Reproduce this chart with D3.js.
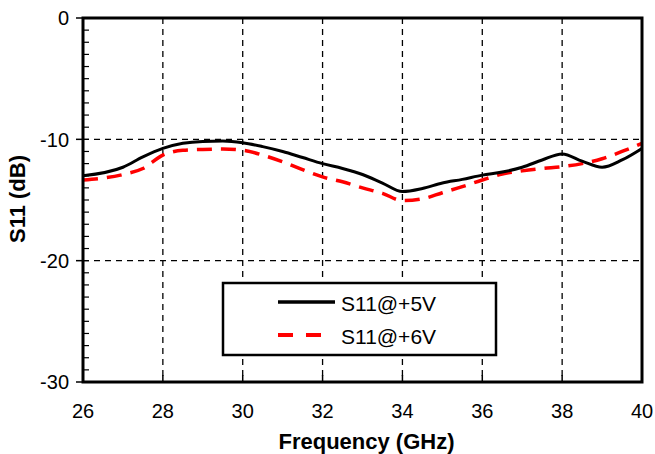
<!DOCTYPE html>
<html>
<head>
<meta charset="utf-8">
<script src="https://cdn.jsdelivr.net/npm/d3@7"></script>
<style>
  body { margin: 0; background: #fff; }
  text { font-family: "Liberation Sans", Arial, sans-serif; }
</style>
</head>
<body>
<div id="chart"></div>
<script>
var freq5 = [26, 27, 27.5, 28, 28.5, 29, 29.5, 30, 30.5, 31, 31.5, 32, 32.5, 33, 33.5, 34, 34.5, 35, 35.5, 36, 36.5, 37, 37.5, 38, 38.5, 39, 39.5, 40];
var s11_5v = [-13.0, -12.3, -11.45, -10.75, -10.33, -10.17, -10.14, -10.28, -10.6, -11.0, -11.5, -12.0, -12.4, -12.9, -13.6, -14.3, -14.05, -13.6, -13.3, -12.95, -12.7, -12.3, -11.7, -11.2, -11.8, -12.3, -11.7, -10.75];
var freq6 = [26, 27, 27.5, 28, 28.5, 29, 29.5, 30, 30.5, 31, 31.5, 32, 32.5, 33, 33.5, 34, 34.5, 35, 35.5, 36, 36.5, 37, 37.5, 38, 38.5, 39, 39.5, 40];
var s11_6v = [-13.35, -12.9, -12.4, -11.3, -10.9, -10.83, -10.8, -10.9, -11.3, -11.85, -12.5, -13.1, -13.5, -14.0, -14.45, -15.05, -14.9, -14.4, -13.9, -13.35, -12.86, -12.6, -12.4, -12.25, -12.0, -11.6, -11.0, -10.33];
var xTicks = [26, 28, 30, 32, 34, 36, 38, 40];
var yTicks = [0, -10, -20, -30];
var seriesNames = ["S11@+5V", "S11@+6V"];

var W = 655, H = 454;
var margin = {top: 18, right: 13, bottom: 72, left: 83};
var width = W - margin.left - margin.right,
    height = H - margin.top - margin.bottom;

var svg = d3.select("#chart").append("svg")
    .attr("width", W).attr("height", H)
    .append("g")
    .attr("transform", "translate(" + margin.left + "," + margin.top + ")");

var x = d3.scaleLinear().domain([26, 40]).range([0, width]);
var y = d3.scaleLinear().domain([-30, 0]).range([height, 0]);

// grid (dashed)
svg.selectAll(".vgrid").data(xTicks.slice(1, -1)).enter().append("line")
    .attr("x1", d => x(d)).attr("x2", d => x(d))
    .attr("y1", 0).attr("y2", height)
    .attr("stroke", "#000").attr("stroke-width", 1.3).attr("stroke-dasharray", "6,5");
svg.selectAll(".hgrid").data(yTicks.slice(1, -1)).enter().append("line")
    .attr("x1", 0).attr("x2", width)
    .attr("y1", d => y(d)).attr("y2", d => y(d))
    .attr("stroke", "#000").attr("stroke-width", 1.3).attr("stroke-dasharray", "6,5");

// minor ticks on the left axis, pointing in
svg.selectAll(".ytick-minor").data(d3.range(-29, 0)).enter().append("line")
    .attr("x1", 0).attr("x2", 6)
    .attr("y1", d => y(d)).attr("y2", d => y(d))
    .attr("stroke", "#000").attr("stroke-width", 1.2);
// major ticks on the left axis, pointing out
svg.selectAll(".ytick").data(yTicks).enter().append("line")
    .attr("x1", -7).attr("x2", 0)
    .attr("y1", d => y(d)).attr("y2", d => y(d))
    .attr("stroke", "#000").attr("stroke-width", 1.5);
// ticks on bottom axis, pointing in
svg.selectAll(".xtick").data(xTicks.slice(1, -1)).enter().append("line")
    .attr("x1", d => x(d)).attr("x2", d => x(d))
    .attr("y1", height).attr("y2", height - 7)
    .attr("stroke", "#000").attr("stroke-width", 1.5);

// tick labels
svg.selectAll(".ylab").data(yTicks).enter().append("text")
    .attr("x", -14).attr("y", d => y(d))
    .attr("dy", "0.36em").attr("text-anchor", "end")
    .attr("font-size", 20).text(d => d);
svg.selectAll(".xlab").data(xTicks).enter().append("text")
    .attr("x", d => x(d)).attr("y", height + 36)
    .attr("text-anchor", "middle")
    .attr("font-size", 20).text(d => d);

// axis titles
svg.append("text")
    .attr("x", width / 2 + 4).attr("y", height + 67)
    .attr("text-anchor", "middle")
    .attr("font-size", 22).attr("font-weight", "bold")
    .text("Frequency (GHz)");
svg.append("text")
    .attr("transform", "translate(" + (-66) + "," + (y(-15) - 1) + ") rotate(-90)")
    .attr("text-anchor", "middle").attr("dy", "0.36em")
    .attr("font-size", 22).attr("font-weight", "bold")
    .text("S11 (dB)");

// curves
var line = d3.line().curve(d3.curveMonotoneX)
    .x(d => x(d[0])).y(d => y(d[1]));

svg.append("path")
    .datum(d3.zip(freq6, s11_6v))
    .attr("d", line)
    .attr("fill", "none").attr("stroke", "#ff0000")
    .attr("stroke-width", 3.5).attr("stroke-dasharray", "15,9");
svg.append("path")
    .datum(d3.zip(freq5, s11_5v))
    .attr("d", line)
    .attr("fill", "none").attr("stroke", "#000")
    .attr("stroke-width", 3);

// frame
svg.append("rect")
    .attr("x", 0).attr("y", 0).attr("width", width).attr("height", height)
    .attr("fill", "none").attr("stroke", "#000").attr("stroke-width", 3);

// legend
var lg = svg.append("g").attr("transform", "translate(" + (223 - margin.left) + "," + (283 - margin.top) + ")");
lg.append("rect").attr("width", 273).attr("height", 72)
    .attr("fill", "#fff").attr("stroke", "#000").attr("stroke-width", 2.5);
var styles = [{c: "#000", w: 3.5, dash: null, len: 57}, {c: "#ff0000", w: 4, dash: "15,13", len: 43}];
seriesNames.forEach(function (name, i) {
    var yy = 19 + i * 33;
    lg.append("line")
        .attr("x1", 55).attr("x2", 55 + styles[i].len).attr("y1", yy).attr("y2", yy)
        .attr("stroke", styles[i].c).attr("stroke-width", styles[i].w)
        .attr("stroke-dasharray", styles[i].dash);
    lg.append("text")
        .attr("x", 118).attr("y", yy + 1).attr("dy", "0.36em")
        .attr("font-size", 21).text(name);
});
</script>
</body>
</html>
